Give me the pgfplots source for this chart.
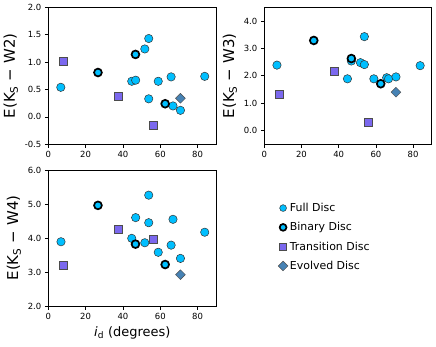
\documentclass[border=0pt]{standalone}
\usepackage{fontspec}
\setmainfont{DejaVu Sans}
\setsansfont{DejaVu Sans}
\usepackage{pgfplots}
\pgfplotsset{compat=1.18}
\definecolor{fullc}{RGB}{0,191,255}
\definecolor{transc}{RGB}{123,104,238}
\definecolor{evolc}{RGB}{70,130,180}

\pgfplotsset{
  panel/.style={
    scale only axis, width=168bp, height=137bp,
    xmin=0, xmax=90, xtick={0,20,...,80},
    tick align=outside, xtick pos=bottom, ytick pos=left,
    major tick length=3.5bp,
    axis line style={line width=0.8bp},
    tick style={line width=0.8bp, black},
    tick label style={font=\fontsize{8.5}{9}\selectfont},
    /pgf/number format/assume math mode=true,
    yticklabel style={/pgf/number format/fixed, /pgf/number format/fixed zerofill,
      /pgf/number format/precision=1},
    ylabel style={font=\fontsize{15}{16}\selectfont},
    xlabel style={font=\fontsize{13}{14}\selectfont},
    legend image code/.code={\draw[##1, mark size=3.4bp] plot coordinates {(0.12cm,0cm)};},
  },
  fulld/.style={only marks, mark=*, mark size=4.2bp,
    mark options={fill=fullc, draw=black!80, line width=0.5bp}},
  bind/.style={only marks, mark=*, mark size=3.9bp,
    mark options={fill=fullc, draw=black, line width=1.7bp}},
  transd/.style={only marks, mark=square*, mark size=4bp,
    mark options={fill=transc, draw=black!70, line width=0.5bp}},
  evold/.style={only marks, mark=square*, mark size=3.45bp,
    mark options={rotate=45, fill=evolc, draw=black!70, line width=0.5bp}},
}

\begin{document}
\begin{tikzpicture}
\useasboundingbox (0bp,0bp) rectangle (436bp,-347bp);

% K - W2
\begin{axis}[panel, at={(48.3bp,-144.3bp)}, anchor=south west,
  ymin=-0.5, ymax=2.0, ytick={-0.5,0,...,2.0},
  ylabel={E(K\textsubscript{S}\,\,−\,\,W2)}]
\addplot[fulld] coordinates {(6.7,0.54) (44.7,0.65) (46.8,0.67) (51.7,1.24) (53.8,1.43) (53.8,0.33) (58.9,0.65) (65.8,0.73) (66.8,0.20) (70.8,0.12) (83.8,0.74)};
\addplot[bind] coordinates {(26.6,0.81) (46.7,1.14) (62.6,0.24)};
\addplot[transd] coordinates {(7.9,1.02) (37.6,0.37) (56.0,-0.15)};
\addplot[evold] coordinates {(70.8,0.34)};
\end{axis}

% K - W3
\begin{axis}[panel, width=167.4bp, at={(264.3bp,-144.3bp)}, anchor=south west,
  ymin=-0.5, ymax=4.5, ytick={0,1,...,4},
  ylabel={E(K\textsubscript{S}\,\,−\,\,W3)}]
\addplot[fulld] coordinates {(6.8,2.39) (44.7,1.89) (46.8,2.54) (51.7,2.48) (53.8,3.43) (53.8,2.41) (58.9,1.89) (65.8,1.93) (66.8,1.89) (70.8,1.96) (83.8,2.37)};
\addplot[bind] coordinates {(26.6,3.29) (46.8,2.63) (62.6,1.71)};
\addplot[transd] coordinates {(7.9,1.33) (37.6,2.17) (56.0,0.32)};
\addplot[evold] coordinates {(70.8,1.40)};
\end{axis}

% K - W4
\begin{axis}[panel, height=136bp, at={(48.3bp,-306bp)}, anchor=south west,
  ymin=2.0, ymax=6.0, ytick={2,3,...,6},
  ylabel={E(K\textsubscript{S}\,\,−\,\,W4)},
  xlabel={\textit{i}\textsubscript{d} (degrees)},
  legend style={at={(1.35,0.787)}, anchor=north west, draw=none, fill=none,
    font=\fontsize{11}{12}\selectfont, row sep=5.5bp},
  legend cell align=left]
\addplot[fulld] coordinates {(6.8,3.89) (44.7,3.99) (46.8,4.60) (51.7,3.86) (53.8,5.26) (53.8,4.45) (58.9,3.58) (66.8,4.55) (65.8,3.79) (70.8,3.40) (83.8,4.17)};
\addplot[bind] coordinates {(26.6,4.96) (46.7,3.82) (62.6,3.22)};
\addplot[transd] coordinates {(7.9,3.20) (37.6,4.26) (56.0,3.97)};
\addplot[evold] coordinates {(70.8,2.92)};
\legend{Full Disc, Binary Disc, Transition Disc, Evolved Disc}
\end{axis}
\end{tikzpicture}
\end{document}
